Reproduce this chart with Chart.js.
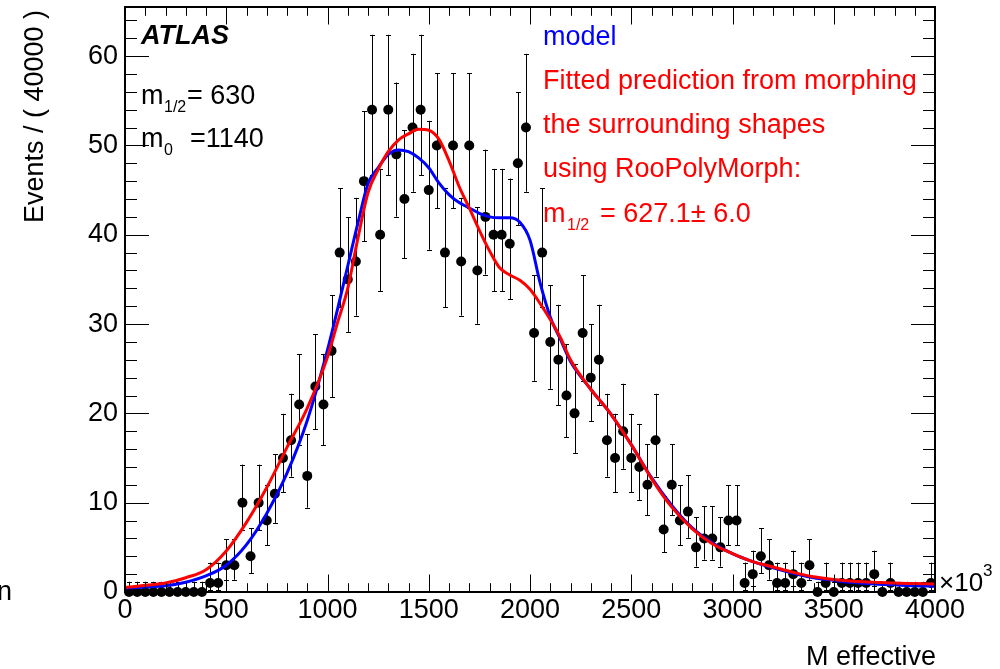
<!DOCTYPE html>
<html>
<head>
<meta charset="utf-8">
<script src="https://cdn.jsdelivr.net/npm/chart.js@4.4.1/dist/chart.umd.min.js"></script>
<style>
  html, body { margin: 0; padding: 0; background: #fff; }
  #wrap { width: 1000px; height: 669px; position: relative; }
</style>
</head>
<body>
<div id="wrap"><canvas id="myChart"></canvas></div>
<script>
// bin centres (M effective / 1000), 40 wide
var binCenters = [20, 60, 100, 140, 180, 220, 260, 300, 340, 380,
  420, 460, 500, 540, 580, 620, 660, 700, 740, 780,
  820, 860, 900, 940, 980, 1020, 1060, 1100, 1140, 1180,
  1220, 1260, 1300, 1340, 1380, 1420, 1460, 1500, 1540, 1580,
  1620, 1660, 1700, 1740, 1780, 1820, 1860, 1900, 1940, 1980,
  2020, 2060, 2100, 2140, 2180, 2220, 2260, 2300, 2340, 2380,
  2420, 2460, 2500, 2540, 2580, 2620, 2660, 2700, 2740, 2780,
  2820, 2860, 2900, 2940, 2980, 3020, 3060, 3100, 3140, 3180,
  3220, 3260, 3300, 3340, 3380, 3420, 3460, 3500, 3540, 3580,
  3620, 3660, 3700, 3740, 3780, 3820, 3860, 3900, 3940, 3980];

// events per bin
var counts = [0, 0, 0, 0, 0, 0, 0, 0, 0, 0,
  1, 1, 3, 3, 10, 4, 10, 8, 11, 15,
  17, 21, 13, 23, 21, 27, 38, 35, 37, 46,
  54, 40, 54, 49, 44, 52, 54, 45, 50, 38,
  50, 37, 50, 36, 42, 40, 40, 39, 48, 52,
  29, 38, 28, 26, 22, 20, 29, 24, 26, 17,
  15, 18, 15, 14, 12, 17, 7, 12, 8, 9,
  5, 6, 6, 5, 8, 8, 1, 2, 4, 3,
  1, 1, 2, 1, 3, 0, 1, 0, 1, 1,
  1, 1, 2, 0, 1, 0, 0, 0, 0, 1];

// curves (blue = model, red = morphing fit)
var curveX = [0, 100, 200, 300, 400, 500, 600, 700, 800, 900,
  1000, 1050, 1100, 1150, 1200, 1250, 1300, 1350, 1400, 1450,
  1500, 1550, 1600, 1650, 1700, 1750, 1800, 1850, 1900, 1950,
  2000, 2050, 2100, 2150, 2200, 2300, 2400, 2500, 2600, 2700,
  2800, 2900, 3000, 3100, 3200, 3300, 3400, 3500, 3600, 3700,
  3800, 3900, 4000];
var modelY = [0.45, 0.55, 0.7, 1.1, 1.8, 3.0, 5.3, 8.8, 13.3, 19.2,
  27.1, 31.7, 36.5, 41.3, 45.7, 47.5, 49.0, 49.5, 49.3, 48.6,
  47.5, 45.8, 44.5, 43.6, 43.0, 42.4, 42.0, 41.9, 41.9, 41.4,
  39.4, 34.6, 30.8, 28.3, 25.8, 22.7, 19.9, 16.5, 12.8, 9.7,
  7.2, 5.5, 4.3, 3.4, 2.7, 2.1, 1.6, 1.3, 1.05, 0.9,
  0.8, 0.7, 0.65];
var fitY = [0.5, 0.75, 1.0, 1.6, 2.5, 4.6, 7.8, 11.7, 16.2, 20.6,
  26.3, 30.2, 34.0, 39.6, 44.7, 47.3, 49.3, 50.6, 51.3, 51.8,
  51.7, 50.7, 48.3, 45.4, 43.0, 40.5, 38.2, 36.3, 35.5, 34.9,
  33.9, 32.3, 30.5, 28.5, 26.0, 22.7, 19.9, 16.5, 12.7, 9.5,
  7.1, 5.4, 4.3, 3.4, 2.8, 2.2, 1.7, 1.4, 1.2, 1.1,
  1.0, 0.95, 0.9];

var xTicks = [0, 500, 1000, 1500, 2000, 2500, 3000, 3500, 4000];
var yTicks = [0, 10, 20, 30, 40, 50, 60];

var FONT = '"Liberation Sans", Arial, Helvetica, sans-serif';

// poisson 68% interval (RooFit style), [down, up]
function poissonErr(n) {
  if (n === 0) return [0, 1.148];
  var lo = n * Math.pow(1 - 1 / (9 * n) - 1 / (3 * Math.sqrt(n)), 3);
  var m = n + 1;
  var hi = m * Math.pow(1 - 1 / (9 * m) + 1 / (3 * Math.sqrt(m)), 3);
  return [n - lo, hi - n];
}

function toXY(xs, ys) {
  var out = [];
  for (var i = 0; i < xs.length; i++) out.push({ x: xs[i], y: ys[i] });
  return out;
}

var rootStyle = {
  id: 'rootStyle',
  beforeDatasetsDraw: function (chart) {
    // error bars under the markers
    var ctx = chart.ctx, sx = chart.scales.x, sy = chart.scales.y;
    ctx.save();
    ctx.strokeStyle = '#000';
    ctx.lineWidth = 1;
    ctx.beginPath();
    for (var i = 0; i < binCenters.length; i++) {
      var e = poissonErr(counts[i]);
      var px = Math.round(sx.getPixelForValue(binCenters[i])) + 0.5;
      var lo = sy.getPixelForValue(counts[i] - e[0]);
      var hi = sy.getPixelForValue(counts[i] + e[1]);
      ctx.moveTo(px, lo); ctx.lineTo(px, hi);
      ctx.moveTo(px - 2.5, Math.round(hi) + 0.5); ctx.lineTo(px + 2.5, Math.round(hi) + 0.5);
      if (e[0] > 0) {
        ctx.moveTo(px - 2.5, Math.round(lo) + 0.5); ctx.lineTo(px + 2.5, Math.round(lo) + 0.5);
      }
    }
    ctx.stroke();
    ctx.restore();
  },
  afterDatasetsDraw: function (chart) {
    var ctx = chart.ctx, a = chart.chartArea, sx = chart.scales.x, sy = chart.scales.y;
    ctx.save();
    ctx.strokeStyle = '#000';
    ctx.lineWidth = 1;
    ctx.beginPath();
    var v, p, len;
    for (v = 0; v <= 4000; v += 100) {
      p = Math.round(sx.getPixelForValue(v)) + 0.5;
      len = (v % 500 === 0) ? 17.5 : 8.8;
      ctx.moveTo(p, a.bottom); ctx.lineTo(p, a.bottom - len);
      ctx.moveTo(p, a.top); ctx.lineTo(p, a.top + len);
    }
    for (v = 0; v <= 64; v += 2) {
      p = Math.round(sy.getPixelForValue(v)) + 0.5;
      len = (v % 10 === 0) ? 24 : 12;
      ctx.moveTo(a.left, p); ctx.lineTo(a.left + len, p);
      ctx.moveTo(a.right, p); ctx.lineTo(a.right - len, p);
    }
    ctx.stroke();
    // frame
    ctx.lineWidth = 2;
    ctx.strokeRect(a.left, a.top, a.right - a.left, a.bottom - a.top);
    ctx.restore();
  },
  afterDraw: function (chart) {
    var ctx = chart.ctx;
    ctx.save();
    ctx.textBaseline = 'alphabetic';
    ctx.textAlign = 'left';
    ctx.fillStyle = '#000';

    ctx.font = 'italic bold 27px ' + FONT;
    ctx.fillText('ATLAS', 141, 44);

    ctx.font = '27px ' + FONT;
    ctx.fillText('m', 141, 104);
    ctx.fillText('= 630', 187, 104);
    ctx.fillText('m', 141, 147);
    ctx.fillText('=1140', 190, 147);
    ctx.font = '16px ' + FONT;
    ctx.fillText('1/2', 164, 112);
    ctx.fillText('0', 164, 155);

    ctx.font = '27px ' + FONT;
    ctx.fillStyle = '#0000ff';
    ctx.fillText('model', 543, 45);
    ctx.fillStyle = '#ff0000';
    ctx.fillText('Fitted prediction from morphing', 543, 89);
    ctx.fillText('the surrounding shapes', 543, 133);
    ctx.fillText('using RooPolyMorph:', 543, 177);
    ctx.fillText('m', 543, 222);
    ctx.fillText('= 627.1\u00b1 6.0', 600, 222);
    ctx.font = '16px ' + FONT;
    ctx.fillText('1/2', 567, 230);

    // x axis title and exponent
    ctx.fillStyle = '#000';
    ctx.font = '27px ' + FONT;
    ctx.fillText('M effective', 806, 665);
    ctx.font = '26px ' + FONT;
    ctx.fillText('\u00d710', 939, 591);
    ctx.font = '17px ' + FONT;
    ctx.fillText('3', 983, 576);

    // stray glyph at the left edge
    ctx.font = '27px ' + FONT;
    ctx.fillText('n', -3, 600);

    // y axis title
    ctx.translate(43, 10);
    ctx.rotate(-Math.PI / 2);
    ctx.textAlign = 'right';
    ctx.font = '27px ' + FONT;
    ctx.fillText('Events / ( 40000 )', 0, 0);
    ctx.restore();
  }
};

var ctx = document.getElementById('myChart');
var myChart = new Chart(ctx, {
  type: 'scatter',
  data: {
    datasets: [
      {
        type: 'line', label: 'fit', data: toXY(curveX, fitY),
        borderColor: '#ff0000', borderWidth: 3, pointRadius: 0,
        cubicInterpolationMode: 'monotone', fill: false
      },
      {
        type: 'line', label: 'model', data: toXY(curveX, modelY),
        borderColor: '#0000ff', borderWidth: 3, pointRadius: 0,
        cubicInterpolationMode: 'monotone', fill: false
      },
      {
        label: 'data', data: toXY(binCenters, counts),
        backgroundColor: '#000', borderColor: '#000', pointRadius: 5,
        borderWidth: 0, clip: false
      }
    ]
  },
  options: {
    responsive: true,
    maintainAspectRatio: false,
    devicePixelRatio: 1,
    animation: false,
    events: [],
    layout: { padding: { left: 40, right: 65, top: 7, bottom: 37 } },
    plugins: { legend: { display: false }, tooltip: { enabled: false } },
    scales: {
      x: {
        type: 'linear', min: 0, max: 4000,
        grid: { display: false, drawTicks: false },
        border: { display: false },
        afterBuildTicks: function (s) { s.ticks = xTicks.map(function (v) { return { value: v }; }); },
        afterFit: function (s) { s.height = 40; s.paddingLeft = 0; s.paddingRight = 0; },
        ticks: {
          color: '#000', font: { family: FONT, size: 27 }, padding: 2, maxRotation: 0, autoSkip: false,
          callback: function (v) { return String(v); }
        }
      },
      y: {
        type: 'linear', min: 0, max: 65.5,
        grid: { display: false, drawTicks: false },
        border: { display: false },
        afterBuildTicks: function (s) { s.ticks = yTicks.map(function (v) { return { value: v }; }); },
        afterFit: function (s) { s.width = 85; s.paddingTop = 0; s.paddingBottom = 0; },
        ticks: {
          color: '#000', font: { family: FONT, size: 27 }, padding: 7,
          callback: function (v) { return String(v); }
        }
      }
    }
  },
  plugins: [rootStyle]
});
</script>
</body>
</html>
